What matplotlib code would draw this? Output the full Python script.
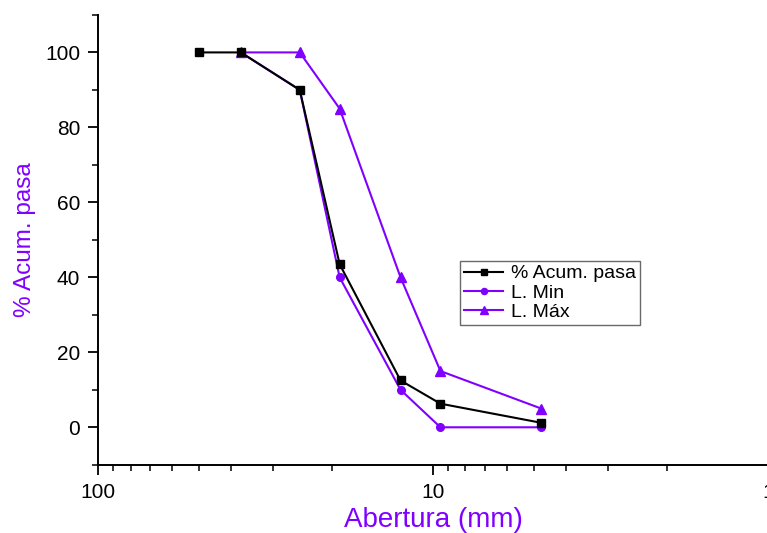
import matplotlib
matplotlib.use("Agg")
import matplotlib.pyplot as plt
from matplotlib.ticker import FixedLocator, NullFormatter, MultipleLocator

plt.rcParams['font.family'] = ['Liberation Sans', 'DejaVu Sans']

# Data
aberturas_acum = [50, 37.5, 25, 19, 12.5, 9.5, 4.75]
acum_pasa = [100, 100, 90, 43.5, 12.5, 6.3, 1.2]

aberturas_lim = [37.5, 25, 19, 12.5, 9.5, 4.75]
l_min = [100, 90, 40, 10, 0, 0]
l_max = [100, 100, 85, 40, 15, 5]

x_ticks = [100, 10, 1]
x_tick_labels = ['100', '10', '1']
y_ticks = [0, 20, 40, 60, 80, 100]

purple = '#8000FF'

fig = plt.figure(figsize=(7.67, 5.33), dpi=100)
ax = fig.add_axes([0.128, 0.128, 0.873, 0.844])

ax.plot(aberturas_acum, acum_pasa, color='black', marker='s', markersize=5.5,
        linewidth=1.5, label='% Acum. pasa', zorder=3)
ax.plot(aberturas_lim, l_min, color=purple, marker='o', markersize=5.5,
        linewidth=1.5, label='L. Min', zorder=2)
ax.plot(aberturas_lim, l_max, color=purple, marker='^', markersize=6.5,
        linewidth=1.5, label='L. Máx', zorder=2)

ax.set_xscale('log')
ax.set_xlim(100, 1)
ax.set_ylim(-10, 110)

ax.xaxis.set_major_locator(FixedLocator(x_ticks))
ax.set_xticklabels(x_tick_labels)
minor = [m * d for d in (1, 10) for m in range(2, 10)]
ax.xaxis.set_minor_locator(FixedLocator(minor))
ax.xaxis.set_minor_formatter(NullFormatter())

ax.yaxis.set_major_locator(FixedLocator(y_ticks))
ax.yaxis.set_minor_locator(MultipleLocator(10))

for s in ('top', 'right'):
    ax.spines[s].set_visible(False)
for s in ('left', 'bottom'):
    ax.spines[s].set_linewidth(1.4)

ax.tick_params(axis='both', which='major', direction='out', length=7, width=1.3,
               labelsize=15, pad=6)
ax.tick_params(axis='both', which='minor', direction='out', length=4, width=1.1)

ax.set_xlabel('Abertura (mm)', color=purple, fontsize=20)
ax.xaxis.set_label_coords(0.5, -0.122)
ax.xaxis.label.set_va('center')
ax.set_ylabel('% Acum. pasa', color=purple, fontsize=17.5)
ax.yaxis.set_label_coords(-0.109, 0.5)
ax.yaxis.label.set_va('center')

leg = ax.legend(loc='upper left', bbox_to_anchor=(0.541, 0.453), fontsize=14,
                frameon=True, fancybox=False, edgecolor='#444444',
                handlelength=2.0, borderpad=0.2, labelspacing=0.08,
                handletextpad=0.4, borderaxespad=0, markerscale=0.8)
leg.get_frame().set_linewidth(1.0)

fig.savefig('out.png', dpi=100)
